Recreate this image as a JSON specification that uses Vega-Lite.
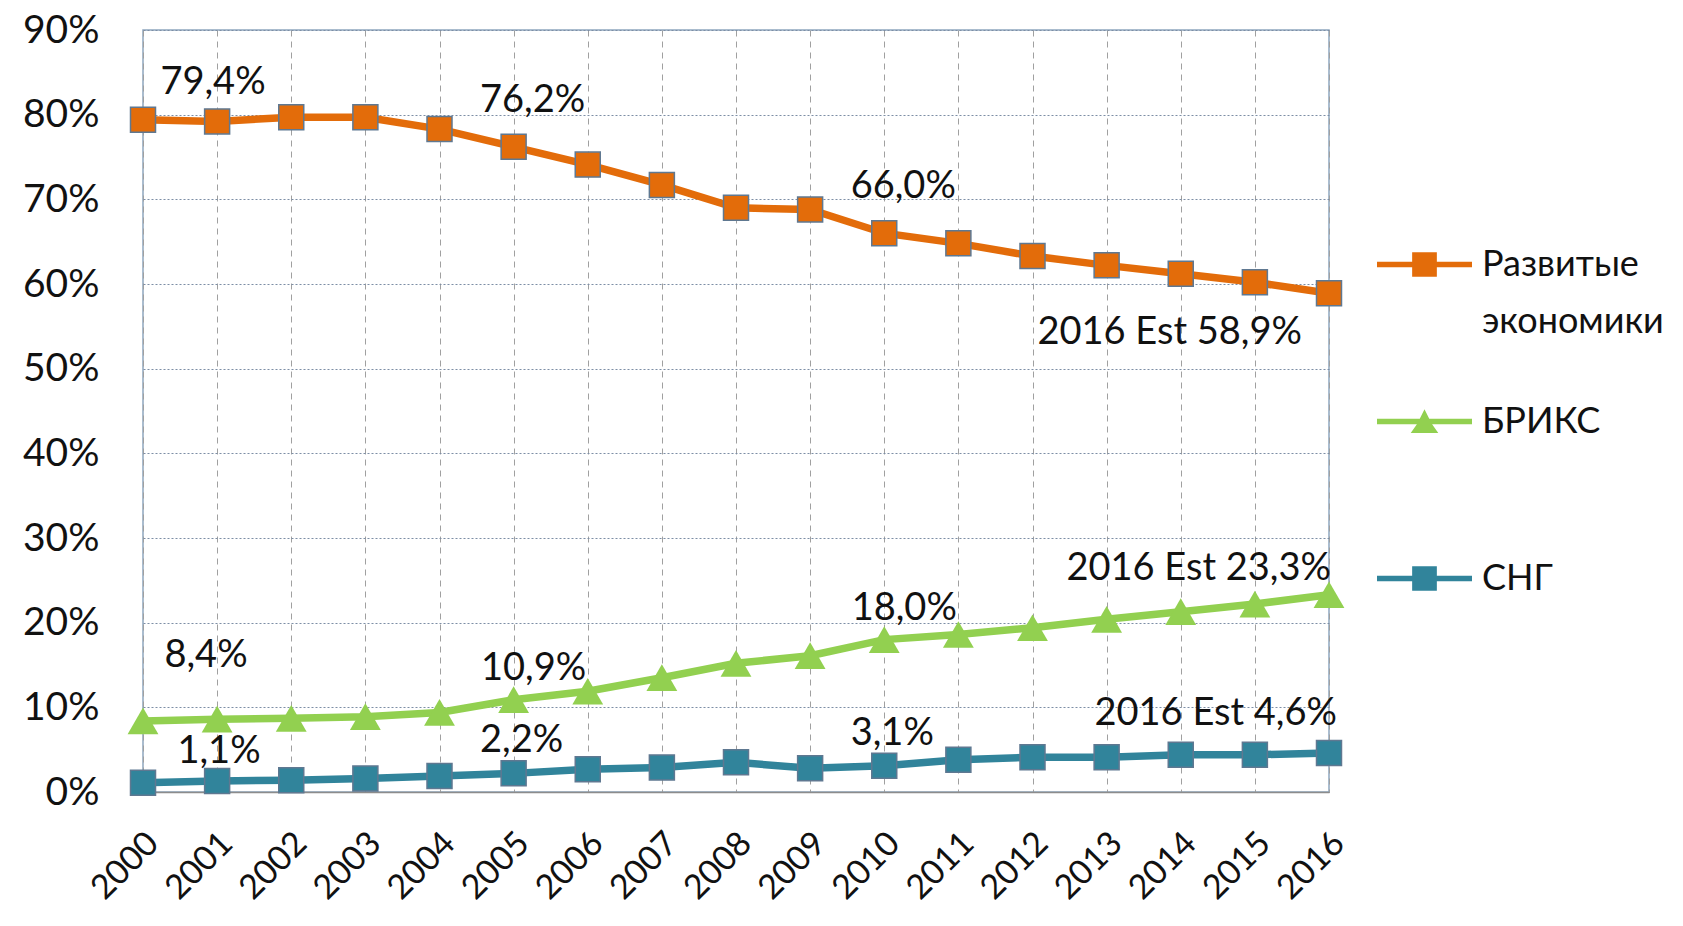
{
  "$schema": "https://vega.github.io/schema/vega-lite/v6.json",
  "width": 1186,
  "height": 762,
  "autosize": {"type": "none"},
  "padding": {"left": 143, "top": 30, "right": 354, "bottom": 134},
  "background": "white",
  "config": {
    "view": {"stroke": "#8fa6bf", "strokeWidth": 1.5},
    "font": "Lato",
    "text": {"font": "Lato", "fontSize": 38, "color": "#111111"}
  },
  "data": {
    "values": [
      {"year": 2000, "series": "Развитые экономики", "value": 79.4, "label": "79,4%"},
      {"year": 2001, "series": "Развитые экономики", "value": 79.2},
      {"year": 2002, "series": "Развитые экономики", "value": 79.7},
      {"year": 2003, "series": "Развитые экономики", "value": 79.7},
      {"year": 2004, "series": "Развитые экономики", "value": 78.3},
      {"year": 2005, "series": "Развитые экономики", "value": 76.2, "label": "76,2%"},
      {"year": 2006, "series": "Развитые экономики", "value": 74.1},
      {"year": 2007, "series": "Развитые экономики", "value": 71.7},
      {"year": 2008, "series": "Развитые экономики", "value": 69.0},
      {"year": 2009, "series": "Развитые экономики", "value": 68.8},
      {"year": 2010, "series": "Развитые экономики", "value": 66.0, "label": "66,0%"},
      {"year": 2011, "series": "Развитые экономики", "value": 64.8},
      {"year": 2012, "series": "Развитые экономики", "value": 63.3},
      {"year": 2013, "series": "Развитые экономики", "value": 62.2},
      {"year": 2014, "series": "Развитые экономики", "value": 61.2},
      {"year": 2015, "series": "Развитые экономики", "value": 60.2},
      {"year": 2016, "series": "Развитые экономики", "value": 58.9, "label": "2016 Est 58,9%"},
      {"year": 2000, "series": "БРИКС", "value": 8.4, "label": "8,4%"},
      {"year": 2001, "series": "БРИКС", "value": 8.6},
      {"year": 2002, "series": "БРИКС", "value": 8.7},
      {"year": 2003, "series": "БРИКС", "value": 8.9},
      {"year": 2004, "series": "БРИКС", "value": 9.4},
      {"year": 2005, "series": "БРИКС", "value": 10.9, "label": "10,9%"},
      {"year": 2006, "series": "БРИКС", "value": 11.9},
      {"year": 2007, "series": "БРИКС", "value": 13.5},
      {"year": 2008, "series": "БРИКС", "value": 15.2},
      {"year": 2009, "series": "БРИКС", "value": 16.1},
      {"year": 2010, "series": "БРИКС", "value": 18.0, "label": "18,0%"},
      {"year": 2011, "series": "БРИКС", "value": 18.6},
      {"year": 2012, "series": "БРИКС", "value": 19.4},
      {"year": 2013, "series": "БРИКС", "value": 20.4},
      {"year": 2014, "series": "БРИКС", "value": 21.3},
      {"year": 2015, "series": "БРИКС", "value": 22.2},
      {"year": 2016, "series": "БРИКС", "value": 23.3, "label": "2016 Est 23,3%"},
      {"year": 2000, "series": "СНГ", "value": 1.1, "label": "1,1%"},
      {"year": 2001, "series": "СНГ", "value": 1.3},
      {"year": 2002, "series": "СНГ", "value": 1.4},
      {"year": 2003, "series": "СНГ", "value": 1.6},
      {"year": 2004, "series": "СНГ", "value": 1.9},
      {"year": 2005, "series": "СНГ", "value": 2.2, "label": "2,2%"},
      {"year": 2006, "series": "СНГ", "value": 2.7},
      {"year": 2007, "series": "СНГ", "value": 2.9},
      {"year": 2008, "series": "СНГ", "value": 3.5},
      {"year": 2009, "series": "СНГ", "value": 2.8},
      {"year": 2010, "series": "СНГ", "value": 3.1, "label": "3,1%"},
      {"year": 2011, "series": "СНГ", "value": 3.8},
      {"year": 2012, "series": "СНГ", "value": 4.1},
      {"year": 2013, "series": "СНГ", "value": 4.1},
      {"year": 2014, "series": "СНГ", "value": 4.4},
      {"year": 2015, "series": "СНГ", "value": 4.4},
      {"year": 2016, "series": "СНГ", "value": 4.6, "label": "2016 Est 4,6%"}
    ]
  },
  "encoding": {
    "x": {
      "field": "year",
      "type": "ordinal",
      "scale": {"type": "point", "padding": 0},
      "axis": {
        "title": null,
        "labelAngle": -45,
        "labelAlign": "right",
        "labelBaseline": "middle",
        "labelFont": "Lato",
        "labelFontSize": 34,
        "labelColor": "#111111",
        "labelPadding": 46,
        "labelOffset": 10,
        "ticks": false,
        "domainColor": "#8c8c8c",
        "domainWidth": 1.5,
        "grid": true,
        "gridDash": [6, 5],
        "gridColor": "#a0a0a0",
        "gridWidth": 1
      }
    },
    "y": {
      "field": "value",
      "type": "quantitative",
      "scale": {"domain": [0, 90], "nice": false},
      "axis": {
        "title": null,
        "values": [0, 10, 20, 30, 40, 50, 60, 70, 80, 90],
        "labelExpr": "datum.value + '%'",
        "labelFont": "Lato",
        "labelFontSize": 39,
        "labelColor": "#111111",
        "labelPadding": 44,
        "ticks": false,
        "domain": false,
        "grid": true,
        "gridDash": [2, 2],
        "gridColor": "#7d8ea5",
        "gridWidth": 1.2
      }
    }
  },
  "layer": [
    {
      "mark": {"type": "point", "filled": true, "opacity": 0},
      "encoding": {
        "fill": {
          "field": "series",
          "type": "nominal",
          "scale": {"domain": ["Развитые экономики", "БРИКС", "СНГ"], "range": ["#E36C0A", "#92D050", "#31849B"]},
          "legend": {
            "orient": "none",
            "legendX": 1234,
            "legendY": 187,
            "title": null,
            "symbolSize": 9025,
            "symbolOpacity": 1,
            "symbolStrokeWidth": 0,
            "labelFont": "Lato",
            "labelFontSize": 36,
            "labelColor": "#111111",
            "labelLimit": 400,
            "labelOffset": 10,
            "rowPadding": -14,
            "labelBaseline": "top",
            "labelExpr": "split(datum.label, ' ')",
            "encode": {"labels": {"update": {"dy": {"value": -17}, "lineHeight": {"value": 57}}}}
          }
        },
        "shape": {
          "field": "series",
          "type": "nominal",
          "scale": {
            "domain": ["Развитые экономики", "БРИКС", "СНГ"],
            "range": [
              "M0,-1.8M0,1.8M-1,-0.057L-0.26,-0.057L-0.26,-0.26L0.26,-0.26L0.26,-0.057L1,-0.057L1,0.057L0.26,0.057L0.26,0.26L-0.26,0.26L-0.26,0.057L-1,0.057Z",
              "M0,-1.8M0,1.8M-1,-0.057L-0.1,-0.057L0,-0.26L0.1,-0.057L1,-0.057L1,0.057L0.16,0.057L0.29,0.24L-0.29,0.24L-0.16,0.057L-1,0.057Z",
              "M0,-1.8M0,1.8M-1,-0.057L-0.26,-0.057L-0.26,-0.26L0.26,-0.26L0.26,-0.057L1,-0.057L1,0.057L0.26,0.057L0.26,0.26L-0.26,0.26L-0.26,0.057L-1,0.057Z"
            ]
          },
          "legend": {
            "orient": "none",
            "legendX": 1234,
            "legendY": 187,
            "title": null,
            "symbolSize": 9025,
            "symbolOpacity": 1,
            "symbolStrokeWidth": 0,
            "labelFont": "Lato",
            "labelFontSize": 36,
            "labelColor": "#111111",
            "labelLimit": 400,
            "labelOffset": 10,
            "rowPadding": -14,
            "labelBaseline": "top",
            "labelExpr": "split(datum.label, ' ')",
            "encode": {"labels": {"update": {"dy": {"value": -17}, "lineHeight": {"value": 57}}}}
          }
        }
      }
    },
    {
      "mark": {"type": "line", "strokeWidth": 7.5},
      "encoding": {
        "color": {
          "field": "series",
          "type": "nominal",
          "scale": {"domain": ["Развитые экономики", "БРИКС", "СНГ"], "range": ["#E36C0A", "#92D050", "#31849B"]},
          "legend": null
        },
        "detail": {"field": "series"}
      }
    },
    {
      "transform": [{"filter": "datum.series != 'БРИКС'"}],
      "mark": {"type": "point", "shape": "square", "filled": true, "size": 625, "opacity": 1, "stroke": "#5f7891", "strokeWidth": 1.5},
      "encoding": {"color": {"field": "series", "type": "nominal", "legend": null}}
    },
    {
      "transform": [{"filter": "datum.series == 'БРИКС'"}],
      "mark": {"type": "point", "shape": "triangle-up", "filled": true, "size": 950, "opacity": 1},
      "encoding": {"color": {"field": "series", "type": "nominal", "legend": null}}
    },
    {
      "transform": [{"filter": "datum.year == 2000 && datum.series == 'Развитые экономики'"}],
      "mark": {"type": "text", "dx": 70, "dy": -37},
      "encoding": {"text": {"field": "label"}}
    },
    {
      "transform": [{"filter": "datum.year == 2000 && datum.series == 'СНГ'"}],
      "mark": {"type": "text", "dx": 76, "dy": -31},
      "encoding": {"text": {"field": "label"}}
    },
    {
      "transform": [{"filter": "datum.year == 2000 && datum.series == 'БРИКС'"}],
      "mark": {"type": "text", "dx": 63, "dy": -65},
      "encoding": {"text": {"field": "label"}}
    },
    {
      "transform": [{"filter": "(datum.year == 2005 || datum.year == 2010) && datum.series == 'Развитые экономики'"}],
      "mark": {"type": "text", "dx": 19, "dy": -46},
      "encoding": {"text": {"field": "label"}}
    },
    {
      "transform": [{"filter": "(datum.year == 2005 || datum.year == 2010) && datum.series == 'БРИКС'"}],
      "mark": {"type": "text", "dx": 20, "dy": -31},
      "encoding": {"text": {"field": "label"}}
    },
    {
      "transform": [{"filter": "(datum.year == 2005 || datum.year == 2010) && datum.series == 'СНГ'"}],
      "mark": {"type": "text", "dx": 8, "dy": -32},
      "encoding": {"text": {"field": "label"}}
    },
    {
      "transform": [{"filter": "datum.year == 2016 && datum.series == 'Развитые экономики'"}],
      "mark": {"type": "text", "align": "right", "dx": -27, "dy": 40},
      "encoding": {"text": {"field": "label"}}
    },
    {
      "transform": [{"filter": "datum.year == 2016 && datum.series == 'БРИКС'"}],
      "mark": {"type": "text", "align": "right", "dx": 2, "dy": -26},
      "encoding": {"text": {"field": "label"}}
    },
    {
      "transform": [{"filter": "datum.year == 2016 && datum.series == 'СНГ'"}],
      "mark": {"type": "text", "align": "right", "dx": 8, "dy": -39},
      "encoding": {"text": {"field": "label"}}
    }
  ]
}
